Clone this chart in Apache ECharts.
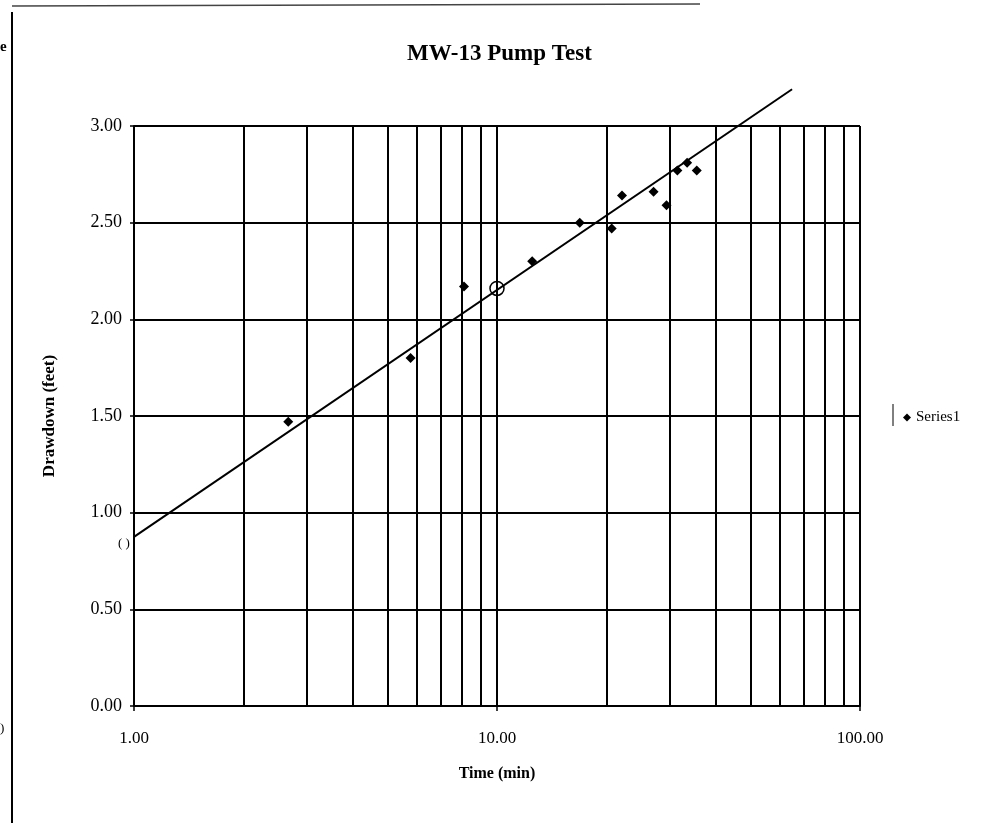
<!DOCTYPE html>
<html>
<head>
<meta charset="utf-8">
<script src="https://cdn.jsdelivr.net/npm/echarts@6/dist/echarts.min.js"></script>
<style>
html,body{margin:0;padding:0;background:#fff;}
#chart{width:983px;height:823px;}
</style>
</head>
<body>
<div id="chart"></div>
<script>
// Measured data (Time in minutes, Drawdown in feet)
var times = [2.66, 5.78, 8.11, 12.5, 16.9, 20.7, 22.1, 27.0, 29.3, 31.4, 33.4, 35.5];
var drawdowns = [1.47, 1.80, 2.17, 2.30, 2.50, 2.47, 2.64, 2.66, 2.59, 2.77, 2.81, 2.77];
// Straight-line fit drawn on the chart (endpoints)
var trendX = [1, 65];
var trendY = [0.875, 3.19];
// Open circle reference point
var refX = [10];
var refY = [2.16];
// Log-cycle gridlines
var xMinorGrid = [2, 3, 4, 5, 6, 7, 8, 9, 20, 30, 40, 50, 60, 70, 80, 90];

var FONT = '"Liberation Serif", "Times New Roman", serif';
var chart = echarts.init(document.getElementById('chart'), null, {renderer: 'canvas'});

function zip(a, b) { return a.map(function (v, i) { return [v, b[i]]; }); }

var option = {
  backgroundColor: '#fff',
  animation: false,
  title: {
    text: 'MW-13 Pump Test',
    left: 402,
    top: 38,
    textStyle: {fontFamily: FONT, fontSize: 23, fontWeight: 'bold', color: '#000'}
  },
  legend: {
    data: ['Series1'],
    orient: 'vertical',
    left: 898,
    top: 405,
    icon: 'diamond',
    itemWidth: 8,
    itemHeight: 8,
    itemGap: 4,
    textStyle: {fontFamily: FONT, fontSize: 15, color: '#000'}
  },
  grid: {left: 134, top: 126, width: 726, height: 580, show: false},
  xAxis: {
    type: 'log',
    logBase: 10,
    min: 1,
    max: 100,
    name: 'Time (min)',
    nameLocation: 'middle',
    nameGap: 60,
    nameTextStyle: {fontFamily: FONT, fontSize: 16, fontWeight: 'bold', color: '#000'},
    axisLine: {show: true, lineStyle: {color: '#000', width: 2}},
    axisTick: {show: true, inside: false, length: 5, lineStyle: {color: '#000', width: 1.5}},
    axisLabel: {
      fontFamily: FONT, fontSize: 17, color: '#000', margin: 24,
      formatter: function (v) { return Number(v).toFixed(2); }
    },
    splitLine: {show: true, lineStyle: {color: '#000', width: 2}},
    minorTick: {show: false},
    minorSplitLine: {show: false}
  },
  yAxis: {
    type: 'value',
    min: 0,
    max: 3,
    interval: 0.5,
    name: 'Drawdown (feet)',
    nameLocation: 'middle',
    nameRotate: 90,
    nameGap: 76,
    nameTextStyle: {fontFamily: FONT, fontSize: 17, fontWeight: 'bold', color: '#000'},
    axisLine: {show: true, lineStyle: {color: '#000', width: 2}},
    axisTick: {show: true, inside: false, length: 4, lineStyle: {color: '#000', width: 1.5}},
    axisLabel: {
      fontFamily: FONT, fontSize: 18, color: '#000', margin: 12,
      formatter: function (v) { return Number(v).toFixed(2); }
    },
    splitLine: {show: true, lineStyle: {color: '#000', width: 2}}
  },
  series: [
    {
      name: 'grid',
      type: 'line',
      data: [],
      silent: true,
      z: 1,
      markLine: {
        silent: true,
        symbol: ['none', 'none'],
        label: {show: false},
        lineStyle: {color: '#000', width: 2, type: 'solid'},
        emphasis: {disabled: true},
        data: xMinorGrid.map(function (v) { return {xAxis: v}; })
      }
    },
    {
      name: 'trend',
      type: 'line',
      data: zip(trendX, trendY),
      clip: false,
      showSymbol: false,
      symbol: 'none',
      lineStyle: {color: '#000', width: 2},
      z: 3
    },
    {
      name: 'ref',
      type: 'scatter',
      data: zip(refX, refY),
      symbol: 'circle',
      symbolSize: 14,
      itemStyle: {color: 'rgba(255,255,255,0)', borderColor: '#000', borderWidth: 1.5, opacity: 1},
      z: 4
    },
    {
      name: 'Series1',
      type: 'scatter',
      data: zip(times, drawdowns),
      symbol: 'diamond',
      symbolSize: 10,
      itemStyle: {color: '#000', opacity: 1},
      z: 5
    }
  ],
  graphic: [
    {type: 'line', shape: {x1: 12, y1: 12, x2: 12, y2: 823}, style: {stroke: '#000', lineWidth: 2}},
    {type: 'line', shape: {x1: 12, y1: 6, x2: 700, y2: 4}, style: {stroke: '#444', lineWidth: 1.5}},
    {type: 'line', shape: {x1: 893, y1: 404, x2: 893, y2: 426}, style: {stroke: '#000', lineWidth: 1}},
    {type: 'text', left: 0, top: 40, style: {text: 'e', font: 'bold 15px ' + FONT, fill: '#000'}},
    {type: 'text', left: 118, top: 537, style: {text: '( )', font: '13px ' + FONT, fill: '#000'}},
    {type: 'text', left: 0, top: 722, style: {text: ')', font: '13px ' + FONT, fill: '#000'}}
  ]
};
chart.setOption(option);
</script>
</body>
</html>
